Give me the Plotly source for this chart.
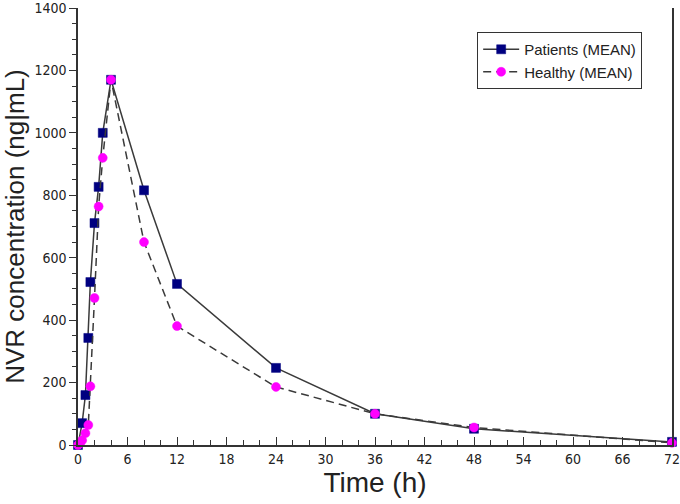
import plotly.graph_objects as go

# Data
patients_time = [0, 0.5, 0.9, 1.25, 1.5, 2, 2.5, 3, 4, 8, 12, 24, 36, 48, 72]
patients_conc = [0, 70, 160, 343, 522, 711, 827, 1000, 1170, 816, 516, 247, 100, 52, 10]

healthy_time = [0, 0.25, 0.5, 0.9, 1.25, 1.5, 2, 2.5, 3, 4, 8, 12, 24, 36, 48, 72]
healthy_conc = [0, 5, 15, 38, 64, 188, 471, 764, 920, 1170, 650, 381, 186, 100, 56, 7]

x_ticks = [0, 6, 12, 18, 24, 30, 36, 42, 48, 54, 60, 66, 72]
y_ticks = [0, 200, 400, 600, 800, 1000, 1200, 1400]

fig = go.Figure()
fig.add_trace(go.Scatter(
    x=patients_time, y=patients_conc, mode="lines+markers",
    name="Patients (MEAN)",
    line=dict(color="#3a3a3a", width=1.5, dash="solid"),
    marker=dict(symbol="square", size=9, color="#000080",
                line=dict(color="#000080", width=0.5)),
    cliponaxis=False,
))
fig.add_trace(go.Scatter(
    x=healthy_time, y=healthy_conc, mode="lines+markers",
    name="Healthy (MEAN)",
    line=dict(color="#3a3a3a", width=1.5, dash="8px,5px"),
    marker=dict(symbol="circle", size=9, color="#ff00ff",
                line=dict(color="#ff00ff", width=0.5)),
    cliponaxis=False,
))

tick_font = dict(family="Liberation Sans Narrow, DejaVu Sans Condensed, Liberation Sans, Arial", size=14, color="#222")

fig.update_layout(
    width=680, height=504,
    margin=dict(l=78, r=8, t=8, b=59, autoexpand=False),
    paper_bgcolor="white", plot_bgcolor="white",
    showlegend=True,
    legend=dict(
        x=0.672, y=0.945, xanchor="left", yanchor="top",
        bordercolor="#333", borderwidth=1, bgcolor="white",
        font=dict(family="Liberation Sans, Arial", size=15, color="#222"),
        itemwidth=36, tracegroupgap=2,
    ),
    xaxis=dict(
        range=[0, 72], tickmode="array", tickvals=x_ticks,
        ticktext=[str(v) for v in x_ticks],
        showgrid=False, zeroline=False, automargin=False,
        ticklabeloverflow="allow",
        showline=True, linecolor="#333", linewidth=1.5,
        ticks="inside", ticklen=8, tickwidth=1.2, tickcolor="#333",
        minor=dict(dtick=2, tick0=0, ticks="inside", ticklen=5, tickwidth=1, tickcolor="#333"),
        tickfont=tick_font,
        title=dict(text="Time (h)", font=dict(family="Liberation Sans, Arial", size=28, color="#222"), standoff=0),
    ),
    yaxis=dict(
        range=[0, 1400], tickmode="array", tickvals=y_ticks,
        ticktext=[str(v) for v in y_ticks],
        showgrid=False, zeroline=False, automargin=False,
        ticklabeloverflow="allow",
        showline=True, linecolor="#333", linewidth=1.5, mirror=True,
        ticks="outside", ticklen=7, tickwidth=1.2, tickcolor="#333",
        minor=dict(dtick=50, tick0=0, ticks="outside", ticklen=4, tickwidth=1, tickcolor="#333"),
        tickfont=tick_font,
        title=dict(text="NVR concentration (ng|mL)", font=dict(family="Liberation Sans, Arial", size=26, color="#222"), standoff=4),
    ),
)

fig.write_html(
    "out.html",
    config={"displayModeBar": False},
    post_script="document.body.style.margin='0';document.body.style.overflow='hidden';",
)
